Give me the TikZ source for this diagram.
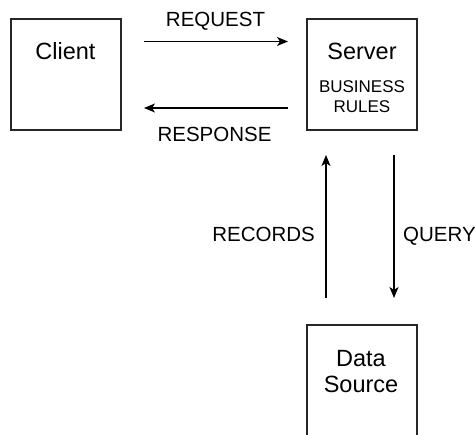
\documentclass[tikz,border=0pt]{standalone}
\usepackage{fontspec}
\setmainfont{Liberation Sans}
\usetikzlibrary{arrows.meta}
\begin{document}
\begin{tikzpicture}[x=1pt,y=-1pt,
  box/.style={draw=black!85,line width=1.3pt,minimum width=110pt,inner sep=0pt},
  arr/.style={line width=1.2pt,-{Stealth[length=11pt,width=9pt,inset=3pt]}},
  big/.style={font=\fontsize{23.5}{26}\selectfont,anchor=base,inner sep=0pt},
  lbl/.style={font=\fontsize{20.5}{24}\selectfont,anchor=base,inner sep=0pt},
  small/.style={font=\fontsize{17}{20}\selectfont,anchor=base,inner sep=0pt}]
\clip (0,0) rectangle (475,435);
\useasboundingbox (0,0) rectangle (475,435);
% boxes
\node[box,minimum height=111pt] (client) at (66,74.5) {};
\node[box,minimum height=111pt] (server) at (362,74.5) {};
\node[box,minimum height=160pt] (source) at (362,405) {};
% box texts
\node[big] (clienttxt) at (65.5,60) {Client};
\node[big] (servertxt) at (362,60) {Server};
\node[small] (bus) at (362,92.5) {BUSINESS};
\node[small] (rules) at (362,112.5) {RULES};
\node[big] (data) at (361,366.5) {Data};
\node[big] (src) at (361,393) {Source};
% connector ends
\coordinate (reqa) at (144,41.5);
\coordinate (reqb) at (288,41.5);
\coordinate (resa) at (288,108);
\coordinate (resb) at (144,108);
\coordinate (reca) at (326,298);
\coordinate (recb) at (326,155);
\coordinate (qa) at (394,155);
\coordinate (qb) at (394,298);
\draw[arr] (reqa) -- (reqb);
\draw[arr] (resa) -- (resb);
\draw[arr] (reca) -- (recb);
\draw[arr] (qa) -- (qb);
% labels
\node[lbl] (reqlbl) at (215.5,26.5) {REQUEST};
\node[lbl] (reslbl) at (214.5,141.5) {RESPONSE};
\node[lbl,anchor=base east] (reclbl) at (315,241.5) {RECORDS};
\node[lbl,anchor=base west] (qlbl) at (403,241.5) {QUERY};
\end{tikzpicture}
\end{document}
